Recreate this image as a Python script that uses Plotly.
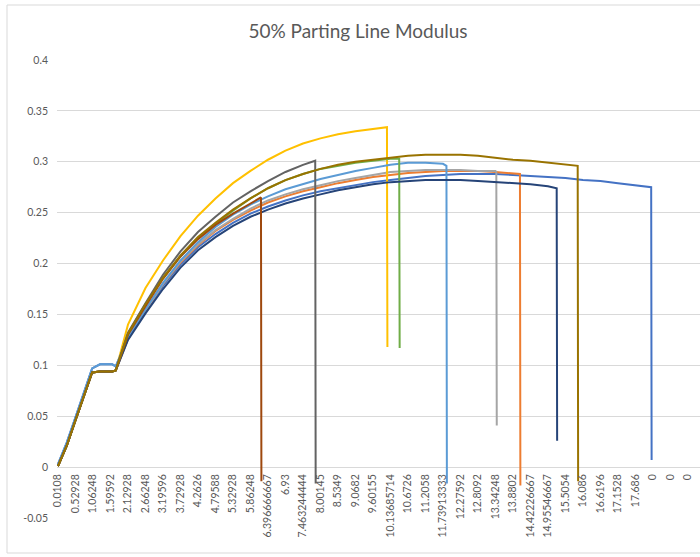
import plotly.graph_objects as go

# ---------------- data ----------------
TITLE = "50% Parting Line Modulus"

X_LABELS = ["0.0108", "0.52928", "1.06248", "1.59592", "2.12928", "2.66248",
            "3.19596", "3.72928", "4.2626", "4.79588", "5.32928", "5.86248",
            "6.396666667", "6.93", "7.463244444", "8.00145", "8.5349", "9.0682",
            "9.60155", "10.13685714", "10.6726", "11.2058", "11.73913333",
            "12.27592", "12.8092", "13.34248", "13.8802", "14.42226667",
            "14.95546667", "15.5054", "16.086", "16.6196", "17.1528", "17.686",
            "0", "0", "0"]

Y_TICKS = [-0.05, 0, 0.05, 0.1, 0.15, 0.2, 0.25, 0.3, 0.35, 0.4]
Y_TICK_TEXT = ["-0.05", "0", "0.05", "0.1", "0.15", "0.2", "0.25", "0.3", "0.35", "0.4"]

# positions along the category axis, in units of labelled categories
START_GRID = [0, 0.5, 1.0, 1.5, 1.95, 2.4, 3.1, 3.3]
EARLY_HIGH = [0.003, 0.024, 0.049, 0.075, 0.097, 0.101, 0.101, 0.099]
EARLY_LOW = [0.001, 0.021, 0.046, 0.071, 0.093, 0.094, 0.094, 0.095]
MAIN_START = 4
ROW_STEP = 0.025

SERIES_NAMES = ["Series1", "Series2", "Series3", "Series4", "Series5",
                "Series6", "Series7", "Series8", "Series9", "Series10"]

s1_vals = [0.127, 0.153, 0.178, 0.199, 0.216, 0.229, 0.240, 0.249, 0.256, 0.262,
           0.267, 0.271, 0.274, 0.277, 0.280, 0.282, 0.284, 0.286, 0.287, 0.288,
           0.288, 0.288, 0.287, 0.286, 0.285, 0.284, 0.282, 0.281, 0.279, 0.277]
s2_vals = [0.126, 0.154, 0.180, 0.201, 0.218, 0.232, 0.243, 0.252, 0.260, 0.266,
           0.271, 0.275, 0.279, 0.282, 0.285, 0.287, 0.289, 0.290, 0.291, 0.291,
           0.291, 0.290, 0.289]
s3_vals = [0.126, 0.154, 0.180, 0.202, 0.219, 0.233, 0.244, 0.254, 0.262, 0.268,
           0.273, 0.277, 0.281, 0.284, 0.287, 0.290, 0.291, 0.292, 0.292, 0.292,
           0.291, 0.291]
s4_vals = [0.140, 0.176, 0.203, 0.227, 0.247, 0.264, 0.279, 0.291, 0.302, 0.311,
           0.318, 0.323, 0.327, 0.330, 0.332]
s5_vals = [0.127, 0.155, 0.181, 0.203, 0.221, 0.236, 0.248, 0.258, 0.266, 0.273,
           0.278, 0.283, 0.287, 0.291, 0.294, 0.297, 0.299, 0.299, 0.298]
s6_vals = [0.131, 0.160, 0.186, 0.207, 0.225, 0.239, 0.252, 0.264, 0.274, 0.282,
           0.288, 0.293, 0.296, 0.299, 0.301, 0.303]
s7_vals = [0.125, 0.151, 0.175, 0.196, 0.213, 0.226, 0.237, 0.246, 0.253, 0.259,
           0.264, 0.268, 0.272, 0.275, 0.278, 0.280, 0.281, 0.282, 0.282, 0.282,
           0.281, 0.280, 0.279, 0.278, 0.276]
s8_vals = [0.130, 0.158, 0.185, 0.207, 0.224, 0.238, 0.249, 0.259]
s9_vals = [0.132, 0.161, 0.189, 0.212, 0.231, 0.246, 0.260, 0.271, 0.281, 0.290,
           0.297]
s10_vals = [0.131, 0.160, 0.186, 0.208, 0.226, 0.240, 0.253, 0.264, 0.274, 0.282,
            0.288, 0.293, 0.297, 0.300, 0.302, 0.304, 0.306, 0.307, 0.307, 0.307,
            0.306, 0.304, 0.302, 0.301, 0.299, 0.297]

SERIES_VALUES = [s1_vals, s2_vals, s3_vals, s4_vals, s5_vals,
                 s6_vals, s7_vals, s8_vals, s9_vals, s10_vals]
SERIES_EARLY_HIGH = [True, False, False, False, True, False, False, False, False, False]

END_X = [33.9, 26.4, 25.05, 18.8, 22.2, 19.5, 28.5, 11.6, 14.7, 29.7]
END_TOP = [0.275, 0.288, 0.290, 0.334, 0.296, 0.303, 0.274, 0.265, 0.301, 0.296]
END_DROP = [0.007, -0.018, 0.041, 0.118, -0.016, 0.117, 0.026, -0.014, -0.016, -0.014]

# ---------------- style ----------------
COLORS = ["#4472C4", "#ED7D31", "#A5A5A5", "#FFC000", "#5B9BD5",
          "#70AD47", "#264478", "#9E480E", "#636363", "#997300"]
FONT = "Lato, 'Open Sans', sans-serif"
TEXT_COLOR = "#595959"
GRID_COLOR = "#D9D9D9"

W, H = 700, 557
M_L, M_R, M_T, M_B = 57, 0, 60, 39
Y_MIN, Y_MAX = -0.05, 0.4
X_MIN, X_MAX = -0.057, 36.69

fig = go.Figure()
for name, vals, hi, ex, et, ed, col in zip(SERIES_NAMES, SERIES_VALUES, SERIES_EARLY_HIGH,
                                           END_X, END_TOP, END_DROP, COLORS):
    early = EARLY_HIGH if hi else EARLY_LOW
    xs = START_GRID + [MAIN_START + k for k in range(len(vals))] + [ex, ex + ROW_STEP]
    ys = early + vals + [et, ed]
    fig.add_trace(go.Scatter(x=xs, y=ys, mode="lines", name=name,
                             line=dict(color=col, width=2)))

plot_w = W - M_L - M_R
plot_h = H - M_T - M_B

fig.update_layout(
    width=W, height=H,
    margin=dict(l=M_L, r=M_R, t=M_T, b=M_B, pad=0),
    paper_bgcolor="white", plot_bgcolor="white",
    showlegend=False,
    font=dict(family=FONT, color=TEXT_COLOR, size=11),
    title=dict(text=TITLE, x=358 / W, xref="container", xanchor="center",
               y=1 - 31 / H, yref="container", yanchor="middle",
               font=dict(family=FONT, size=19, color=TEXT_COLOR)),
    xaxis=dict(range=[X_MIN, X_MAX], tickmode="array",
               tickvals=list(range(len(X_LABELS))), ticktext=X_LABELS,
               tickangle=-90, showgrid=False, zeroline=False, showline=False,
               ticks="", anchor="free",
               position=(0 - Y_MIN) / (Y_MAX - Y_MIN),
               tickfont=dict(family=FONT, size=10.5, color=TEXT_COLOR),
               automargin=False, ticklabelstandoff=4),
    yaxis=dict(range=[Y_MIN, Y_MAX], tickmode="array", tickvals=Y_TICKS,
               ticktext=Y_TICK_TEXT, showgrid=True, gridcolor=GRID_COLOR,
               gridwidth=1, zeroline=False, showline=False, ticks="",
               tickfont=dict(family=FONT, size=10.5, color=TEXT_COLOR),
               automargin=False, ticklabelstandoff=8),
    shapes=[dict(type="rect", xref="paper", yref="paper",
                 x0=(7 - M_L) / plot_w, x1=1.05,
                 y0=-(553 - (H - M_B)) / plot_h, y1=(H - M_B - 5) / plot_h,
                 line=dict(color=GRID_COLOR, width=1), fillcolor="rgba(0,0,0,0)",
                 layer="below")],
)

fig.write_html("out.html",
               config={"displayModeBar": False},
               post_script="document.body.style.margin='0';"
                           "document.body.style.overflow='hidden';")
